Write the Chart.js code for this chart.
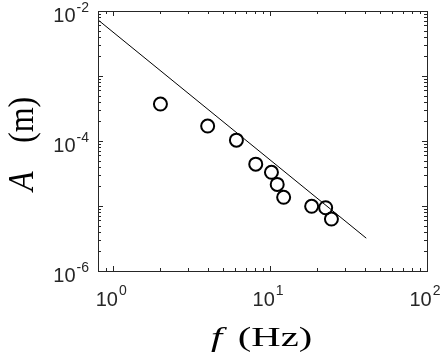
<!DOCTYPE html>
<html>
<head>
<meta charset="utf-8">
<script src="https://cdn.jsdelivr.net/npm/chart.js@4/dist/chart.umd.min.js"></script>
<style>
html,body{margin:0;padding:0;background:#fff;}
#c{display:block;}
</style>
</head>
<body>
<canvas id="c" width="444" height="357"></canvas>
<script>
// Fitted power-law line (endpoints)
const fitF = [0.8, 41];
const fitA = [0.0073, 3.2e-6];
// Measured points
const freqHz = [2.0, 4.0, 6.1, 8.1, 10.2, 11.1, 12.2, 18.4, 22.6, 24.6];
const amplitudeM = [3.7e-4, 1.7e-4, 1.03e-4, 4.4e-5, 3.3e-5, 2.15e-5, 1.36e-5, 9.9e-6, 9.4e-6, 6.3e-6];
// Tick labels (exponents of 10)
const xTickExp = [0, 1, 2];
const yTickExp = [-6, -4, -2];
const xLabel = ['f', '(Hz)'];
const yLabel = ['A', '(m)'];

function drawParts(ctx, parts, x, y, align) {
  let w = 0;
  parts.forEach(p => { ctx.font = p.font; w += ctx.measureText(p.t).width + (p.gap || 0); });
  let cx = x + (align === 'right' ? -w : (align === 'center' ? -w / 2 : 0));
  ctx.textAlign = 'left';
  ctx.textBaseline = 'alphabetic';
  parts.forEach(p => {
    ctx.font = p.font;
    ctx.fillText(p.t, cx + (p.gap || 0), y + (p.dy || 0));
    cx += ctx.measureText(p.t).width + (p.gap || 0);
  });
}

const axesPlugin = {
  id: 'matlabAxes',
  afterDraw(chart) {
    const ctx = chart.ctx;
    const xs = chart.scales.x, ys = chart.scales.y;
    const a = chart.chartArea;
    ctx.save();
    ctx.strokeStyle = '#262626';
    ctx.lineWidth = 1;
    ctx.strokeRect(Math.round(a.left) + 0.5, Math.round(a.top) + 0.5, Math.round(a.right - a.left), Math.round(a.bottom - a.top));
    const tl = 4;
    ctx.beginPath();
    for (let e = -1; e <= 2; e++) {
      for (let m = 1; m <= 9; m++) {
        const v = m * Math.pow(10, e);
        if (v < xs.min - 1e-9 || v > xs.max + 1e-9) continue;
        const px = Math.round(xs.getPixelForValue(v)) + 0.5;
        const len = m === 1 ? tl + 1 : tl - 1;
        ctx.moveTo(px, a.bottom); ctx.lineTo(px, a.bottom - len);
        ctx.moveTo(px, a.top); ctx.lineTo(px, a.top + len);
      }
    }
    for (let e = -6; e <= -2; e++) {
      for (let m = 1; m <= 9; m++) {
        const v = m * Math.pow(10, e);
        if (v < ys.min * 0.999 || v > ys.max * 1.001) continue;
        const py = Math.round(ys.getPixelForValue(v)) + 0.5;
        const len = m === 1 ? tl + 1 : tl - 1;
        ctx.moveTo(a.left, py); ctx.lineTo(a.left + len, py);
        ctx.moveTo(a.right, py); ctx.lineTo(a.right - len, py);
      }
    }
    ctx.stroke();

    ctx.fillStyle = '#262626';
    const base = '20px "Liberation Sans", Arial, sans-serif';
    const sup = '14px "Liberation Sans", Arial, sans-serif';
    xTickExp.forEach(e => {
      const px = xs.getPixelForValue(Math.pow(10, e));
      drawParts(ctx, [{t: '10', font: base}, {t: String(e), font: sup, dy: -11, gap: 1}], px - 2, a.bottom + 34.5, 'center');
    });
    yTickExp.forEach(e => {
      const py = ys.getPixelForValue(Math.pow(10, e));
      drawParts(ctx, [{t: '10', font: base}, {t: String(e), font: sup, dy: -10, gap: 1}], a.left - 9, py + 10.5, 'right');
    });

    // axis titles
    ctx.fillStyle = '#000';
    ctx.textAlign = 'left';
    ctx.textBaseline = 'alphabetic';
    // x title
    ctx.save();
    ctx.translate(211, 345.5);
    ctx.scale(1.45, 1);
    ctx.font = 'italic 28px "Liberation Serif", "DejaVu Serif", serif';
    ctx.fillText(xLabel[0], 0, 0);
    ctx.font = '28px "Liberation Serif", "DejaVu Serif", serif';
    ctx.fillText(xLabel[1], 18.5, 0);
    ctx.restore();
    // y title
    ctx.save();
    ctx.translate(33, 191);
    ctx.rotate(-Math.PI / 2);
    ctx.scale(1, 1.12);
    ctx.font = 'italic 32px "Liberation Serif", "DejaVu Serif", serif';
    ctx.fillText(yLabel[0], 0, 0);
    ctx.font = '32px "Liberation Serif", "DejaVu Serif", serif';
    ctx.fillText(yLabel[1], 48, 0);
    ctx.restore();

    ctx.restore();
  }
};

new Chart(document.getElementById('c'), {
  type: 'scatter',
  data: {
    datasets: [
      {
        type: 'line',
        data: fitF.map((f, i) => ({x: f, y: fitA[i]})),
        borderColor: '#000',
        borderWidth: 1,
        pointRadius: 0,
        fill: false,
        tension: 0
      },
      {
        data: freqHz.map((f, i) => ({x: f, y: amplitudeM[i]})),
        pointRadius: 6.5,
        pointBorderWidth: 2,
        pointBorderColor: '#000',
        pointBackgroundColor: 'rgba(0,0,0,0)',
        showLine: false
      }
    ]
  },
  options: {
    responsive: false,
    animation: false,
    events: [],
    layout: {padding: {left: 98, right: 17, top: 11, bottom: 86}},
    plugins: {legend: {display: false}, tooltip: {enabled: false}},
    scales: {
      x: {type: 'logarithmic', min: 0.8, max: 100, display: false},
      y: {type: 'logarithmic', min: 1e-6, max: 1e-2, display: false}
    }
  },
  plugins: [axesPlugin]
});
</script>
</body>
</html>
